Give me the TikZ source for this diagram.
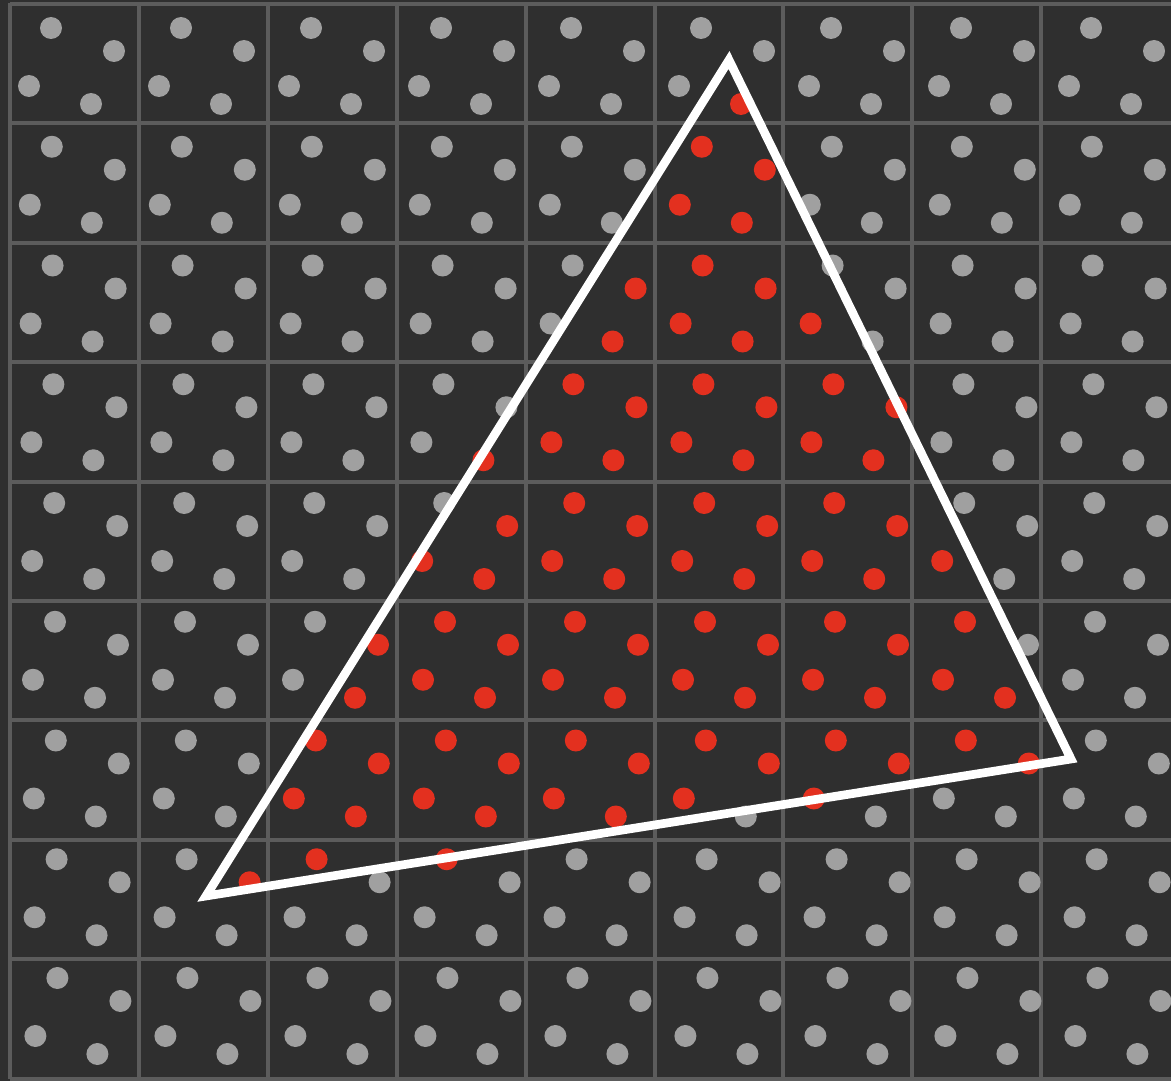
\documentclass[tikz,border=0pt]{standalone}
\usetikzlibrary{calc}
\definecolor{bgc}{HTML}{2F2F2F}
\definecolor{gridc}{HTML}{5C5C5C}
\definecolor{dotgray}{HTML}{A0A0A0}
\definecolor{dotred}{HTML}{E3301F}
\tikzset{
  gridline/.style={draw=gridc, line width=3},
  sample/.style={circle, fill=dotgray, inner sep=0pt, minimum size=16.5},
  hit/.style={circle, fill=dotred, inner sep=0pt, minimum size=16.5},
  tri/.style={draw=white, line width=6.5, line join=miter},
}
% red samples: cell column - cell row - sample id
\foreach \r in {5-0-4,5-1-1,5-1-2,5-1-3,5-1-4,4-2-2,4-2-4,5-2-1,5-2-2,5-2-3,5-2-4,6-2-3,
3-3-4,4-3-1,4-3-2,4-3-3,4-3-4,5-3-1,5-3-2,5-3-3,5-3-4,6-3-1,6-3-2,6-3-3,6-3-4,
3-4-2,3-4-3,3-4-4,4-4-1,4-4-2,4-4-3,4-4-4,5-4-1,5-4-2,5-4-3,5-4-4,6-4-1,6-4-2,6-4-3,6-4-4,7-4-3,
2-5-2,2-5-4,3-5-1,3-5-2,3-5-3,3-5-4,4-5-1,4-5-2,4-5-3,4-5-4,5-5-1,5-5-2,5-5-3,5-5-4,6-5-1,6-5-2,6-5-3,6-5-4,7-5-1,7-5-3,7-5-4,
2-6-1,2-6-2,2-6-3,2-6-4,3-6-1,3-6-2,3-6-3,3-6-4,4-6-1,4-6-2,4-6-3,4-6-4,5-6-1,5-6-2,5-6-3,6-6-1,6-6-2,6-6-3,7-6-1,7-6-2,
1-7-2,2-7-1,3-7-1}{\expandafter\gdef\csname redsmp@\r\endcsname{1}}
\begin{document}
\begin{tikzpicture}[x=0.75pt,y=-0.75pt]
\fill[bgc] (0,0) rectangle (1171,1081);
\useasboundingbox (0,0) rectangle (1171,1081);
% grid
\foreach \i in {0,...,8} {
  \draw[gridline] ({10+128.9*\i},3) -- ({10+128.9*\i},1079);
}
\foreach \j in {0,...,9} {
  \draw[gridline] (10,{4+119.4*\j}) -- (1175,{4+119.4*\j});
}
% samples
\foreach \i in {0,...,8} {
  \foreach \j in {0,...,8} {
    \foreach \k/\dx/\dy in {1/0/0,2/63/23,3/-22/58,4/40/76} {
      \pgfmathsetmacro{\px}{51+130*\i+0.8*\j+\dx}
      \pgfmathsetmacro{\py}{28+118.75*\j+\dy}
      \ifcsname redsmp@\i-\j-\k\endcsname
        \node[hit] (s-\i-\j-\k) at (\px,\py) {};
      \else
        \node[sample] (s-\i-\j-\k) at (\px,\py) {};
      \fi
    }
  }
}
% triangle
\coordinate (A) at (729,60);
\coordinate (B) at (206,896);
\coordinate (C) at (1071,759);
\draw[tri] (A) -- (B) -- (C) -- cycle;
\end{tikzpicture}
\end{document}
